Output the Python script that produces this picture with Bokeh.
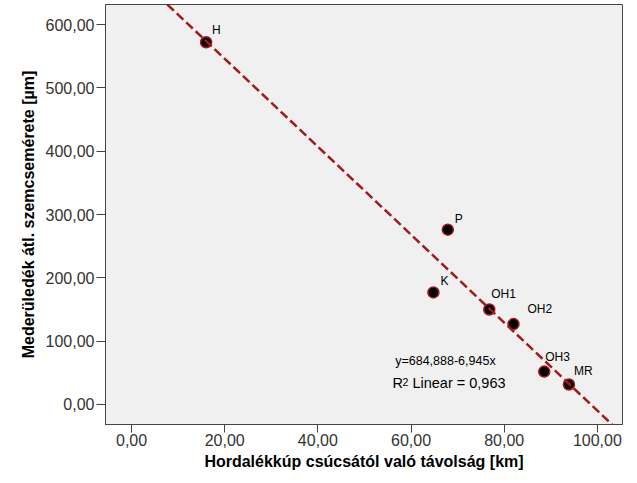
from bokeh.plotting import figure
from bokeh.models import (ColumnDataSource, FixedTicker, CustomJSTickFormatter,
                          Slope, Label, Range1d)
from bokeh.core.properties import value
from bokeh.embed import file_html
from bokeh.resources import INLINE

# ---- data ----
sites = ["H", "P", "K", "OH1", "OH2", "OH3", "MR"]
distance_km = [16.0, 67.9, 64.8, 76.8, 82.0, 88.6, 93.9]
grain_um = [572.0, 276.0, 177.0, 150.0, 127.0, 52.0, 31.6]
fit_intercept = 684.888
fit_slope = -6.945
fit_text = "y=684,888-6,945x"
r2_parts = ["R", "2", "Linear = 0,963"]
x_ticks = [0, 20, 40, 60, 80, 100]
y_ticks = [0, 100, 200, 300, 400, 500, 600]
x_title = "Hordalékkúp csúcsától való távolság [km]"
y_title = "Mederüledék átl. szemcsemérete [µm]"

# label placement (style, screen px; negative dy = upwards)
label_dx = [6, 7, 7, 2, 14, 1, 5]
label_dy = [-12, -11, -11, -15, -15, -15, -13]

FONT = "Liberation Sans"
RED = "#A01A20"

p = figure(width=629, height=475, output_backend="svg", toolbar_location=None,
           x_range=Range1d(-5.6, 105.4), y_range=Range1d(-31.6, 631.6),
           min_border_left=105, min_border_right=7, min_border_top=4,
           min_border_bottom=51)
p.background_fill_color = "#F0F0F0"
p.border_fill_color = "white"
p.outline_line_color = "#444444"
p.outline_line_width = 1
p.grid.visible = False

fmt = CustomJSTickFormatter(code="return tick.toFixed(2).replace('.', ',');")
for ax, ticks in ((p.xaxis, x_ticks), (p.yaxis, y_ticks)):
    ax.ticker = FixedTicker(ticks=ticks)
    ax.formatter = fmt
    ax.major_tick_in = 0
    ax.major_tick_out = 9
    ax.minor_tick_line_color = None
    ax.major_tick_line_color = "#444444"
    ax.axis_line_color = "#444444"
    ax.major_label_text_font = FONT
    ax.major_label_text_font_size = "16px"
    ax.major_label_text_color = "#333333"
    ax.axis_label_text_font = FONT
    ax.axis_label_text_font_size = "16px"
    ax.axis_label_text_font_style = "bold"
    ax.axis_label_text_color = "black"

p.xaxis.axis_label = x_title
p.yaxis.axis_label = y_title
p.xaxis.major_tick_out = 8
p.xaxis.major_label_standoff = 1
p.xaxis.axis_label_standoff = 4
p.yaxis.major_label_standoff = 2
p.yaxis.axis_label_standoff = 6

# fit line
p.add_layout(Slope(gradient=fit_slope, y_intercept=fit_intercept,
                   line_color=RED, line_width=2.5, line_dash="9 4"))

src = ColumnDataSource(dict(x=distance_km, y=grain_um, lab=sites,
                            dx=label_dx, dy=label_dy))
p.scatter("x", "y", source=src, size=11, fill_color="black",
          line_color=RED, line_width=1.5)
p.text("x", "y", text="lab", source=src, x_offset="dx", y_offset="dy",
       text_font=value(FONT), text_font_size="12px", text_color="black",
       text_align="left", text_baseline="middle")

p.add_layout(Label(x=56.6, y=58, text=fit_text, text_font=FONT,
                   text_font_size="12.5px", text_color="black"))
p.add_layout(Label(x=56.0, y=22, text=r2_parts[0], text_font=FONT,
                   text_font_size="14.5px", text_color="black"))
p.add_layout(Label(x=56.0, y=22, x_offset=10, y_offset=5, text=r2_parts[1],
                   text_font=FONT, text_font_size="10.5px", text_color="black"))
p.add_layout(Label(x=56.0, y=22, x_offset=20, text=r2_parts[2], text_font=FONT,
                   text_font_size="14.5px", text_color="black"))

open("out.html", "w").write(file_html(p, INLINE))
